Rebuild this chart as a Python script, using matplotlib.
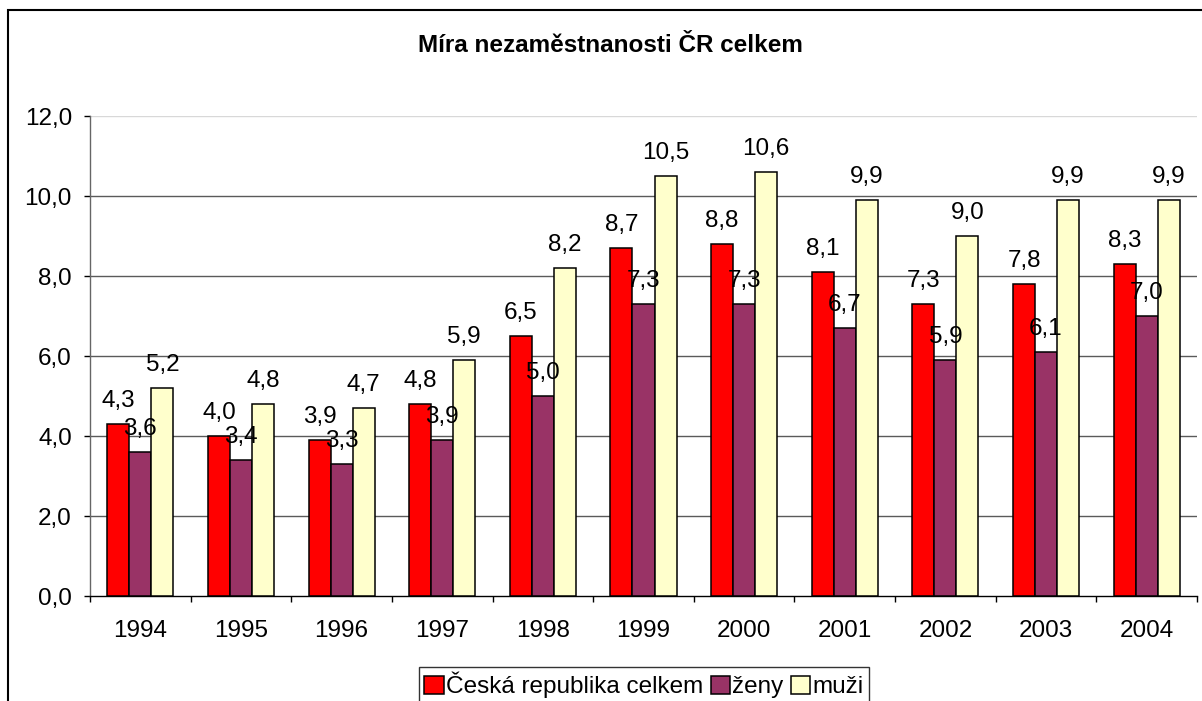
import matplotlib
matplotlib.use("Agg")
import matplotlib.pyplot as plt
import numpy as np
from matplotlib.patches import Rectangle

plt.rcParams['font.family'] = ['Liberation Sans', 'DejaVu Sans']

years = ['1994', '1995', '1996', '1997', '1998', '1999', '2000', '2001', '2002', '2003', '2004']
celkem = [4.3, 4.0, 3.9, 4.8, 6.5, 8.7, 8.8, 8.1, 7.3, 7.8, 8.3]
zeny = [3.6, 3.4, 3.3, 3.9, 5.0, 7.3, 7.3, 6.7, 5.9, 6.1, 7.0]
muzi = [5.2, 4.8, 4.7, 5.9, 8.2, 10.5, 10.6, 9.9, 9.0, 9.9, 9.9]
series_names = ['Česká republika celkem', 'ženy', 'muži']
colors = ['#FF0000', '#993366', '#FFFFCC']
title = 'Míra nezaměstnanosti ČR celkem'

FS = 17.5
W, H = 1202, 701
fig = plt.figure(figsize=(W / 100, H / 100), dpi=100)
fig.patch.set_facecolor('white')

# outer chart border
fig.patches.append(Rectangle((8 / W, -0.2), 1.2, 1.2 - 10 / H, transform=fig.transFigure,
                             fill=False, edgecolor='black', linewidth=1.5))

ax = fig.add_axes([90 / W, 1 - 596 / H, (1197 - 90) / W, (596 - 116) / H])

x = np.arange(len(years))
bw = 0.219
offsets = [-bw, 0, bw]
all_series = [celkem, zeny, muzi]
for vals, off, col, name in zip(all_series, offsets, colors, series_names):
    bars = ax.bar(x + off, vals, width=bw, color=col, edgecolor='black', linewidth=1.1,
                  label=name, zorder=3)
    for b, v in zip(bars, vals):
        ax.annotate(f'{v:.1f}'.replace('.', ','), (b.get_x() + b.get_width() / 2, v),
                    xytext=(0, 12), textcoords='offset points', ha='center', va='baseline',
                    fontsize=FS, zorder=5)

ax.set_xlim(-0.5, len(years) - 0.5)
ax.set_ylim(0, 12)
yt = np.arange(0, 12.1, 2)
ax.set_yticks(yt)
ax.set_yticklabels([f'{v:.1f}'.replace('.', ',') for v in yt], fontsize=FS)
for v in yt[1:-1]:
    ax.axhline(v, color='#5a5a5a', linewidth=1.0, zorder=1)
ax.axhline(12, color='#d8d8d8', linewidth=1.0, zorder=1)

ax.set_xticks(x)
ax.set_xticklabels(years, fontsize=FS)
ax.set_xticks(np.arange(-0.5, len(years) + 0.5, 1), minor=True)
ax.tick_params(axis='x', which='major', length=0, pad=17)
ax.tick_params(axis='x', which='minor', length=4, width=1, color='black', direction='out')
ax.tick_params(axis='y', length=4, width=1, color='black', direction='out', pad=9)

for s in ['top', 'right']:
    ax.spines[s].set_visible(False)
ax.spines['left'].set_color('#666666')
ax.spines['bottom'].set_color('black')
ax.spines['left'].set_linewidth(1.0)
ax.spines['bottom'].set_linewidth(1.0)

fig.text(610 / W, 1 - 45 / H, title, ha='center', va='center', fontsize=FS, fontweight='bold')

leg = fig.legend(loc='upper center', bbox_to_anchor=(644 / W, 1 - 667 / H), ncol=3,
                 fontsize=FS, frameon=True, fancybox=False, edgecolor='black',
                 handlelength=0.8, handleheight=0.8, handletextpad=0.1, columnspacing=0.3,
                 borderpad=0.2, borderaxespad=0)
leg.get_frame().set_linewidth(1.0)

fig.savefig('out.png', dpi=100, facecolor='white')
